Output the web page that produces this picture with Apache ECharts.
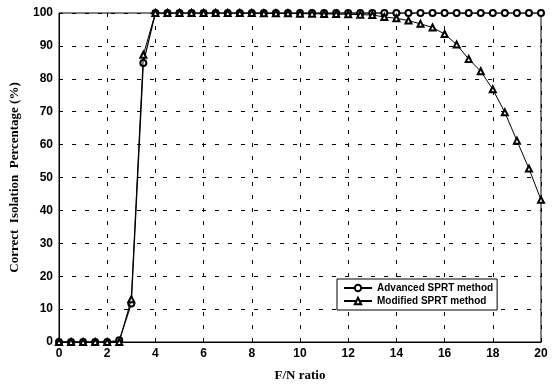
<!DOCTYPE html>
<html>
<head>
<meta charset="utf-8">
<script src="https://cdn.jsdelivr.net/npm/echarts@6/dist/echarts.min.js"></script>
<style>
  html, body { margin: 0; padding: 0; background: #fff; }
  #chart { width: 552px; height: 387px; }
</style>
</head>
<body>
<div id="chart"></div>
<script>
// F/N ratio samples (0 to 20, step 0.5)
const fnRatio = [0, 0.5, 1, 1.5, 2, 2.5, 3, 3.5, 4, 4.5, 5, 5.5, 6, 6.5, 7, 7.5, 8, 8.5, 9, 9.5,
  10, 10.5, 11, 11.5, 12, 12.5, 13, 13.5, 14, 14.5, 15, 15.5, 16, 16.5, 17, 17.5, 18, 18.5, 19, 19.5, 20];

const advancedSprt = [0, 0, 0, 0, 0, 0.5, 11.7, 84.8, 100, 100, 100, 100, 100, 100, 100, 100, 100, 100, 100, 100,
  100, 100, 100, 100, 100, 100, 100, 100, 100, 100, 100, 100, 100, 100, 100, 100, 100, 100, 100, 100, 100];

const modifiedSprt = [0, 0, 0, 0, 0, 0, 13, 87.3, 100, 100, 100, 100, 100, 100, 100, 100, 100, 99.9, 99.9, 99.9,
  99.8, 99.8, 99.7, 99.7, 99.6, 99.5, 99.4, 98.8, 98.4, 97.7, 96.7, 95.6, 93.6, 90.4, 86, 82.3, 76.8, 69.8, 61.2, 52.7, 43.2];

const xTicks = [0, 2, 4, 6, 8, 10, 12, 14, 16, 18, 20];

const chart = echarts.init(document.getElementById('chart'));

const tickFont = { fontFamily: 'Liberation Sans', fontWeight: 'bold', fontSize: 12, color: '#000' };
const dashed = { show: true, lineStyle: { color: '#000', type: [4, 9], width: 1 } };
const nameFont = { fontFamily: 'Liberation Serif', fontWeight: 'bold', fontSize: 13, color: '#000' };

const option = {
  animation: false,
  backgroundColor: '#fff',
  grid: { left: 57, right: 11, top: 13, bottom: 42, show: true, borderColor: '#000', borderWidth: 1 },
  xAxis: {
    type: 'value',
    min: 0,
    max: 20,
    interval: 2,
    name: 'F/N ratio',
    nameLocation: 'middle',
    nameGap: 27,
    nameTextStyle: nameFont,
    axisLine: { show: true, lineStyle: { color: '#000' } },
    axisTick: { inside: true, length: 4, lineStyle: { color: '#000' } },
    axisLabel: { ...tickFont, margin: 6, formatter: v => xTicks.includes(v) ? String(v) : '' },
    splitLine: dashed
  },
  yAxis: {
    type: 'value',
    min: 0,
    max: 100,
    interval: 10,
    name: 'Correct  Isolation  Percentage (%)',
    nameLocation: 'middle',
    nameGap: 38,
    nameTextStyle: nameFont,
    axisLine: { show: true, lineStyle: { color: '#000' } },
    axisTick: { inside: true, length: 4, lineStyle: { color: '#000' } },
    axisLabel: { ...tickFont, margin: 6 },
    splitLine: dashed
  },
  legend: {
    left: 337,
    top: 279,
    orient: 'vertical',
    itemGap: 3,
    itemWidth: 28,
    itemHeight: 8,
    padding: [4, 4, 4, 6],
    borderColor: '#000',
    borderWidth: 1,
    backgroundColor: '#fff',
    textStyle: { fontFamily: 'Liberation Sans', fontWeight: 'bold', fontSize: 10, color: '#000' },
    data: ['Advanced SPRT method', 'Modified SPRT method']
  },
  series: [
    {
      name: 'Advanced SPRT method',
      type: 'line',
      data: fnRatio.map((x, i) => [x, advancedSprt[i]]),
      symbol: 'emptyCircle',
      symbolSize: 6,
      lineStyle: { color: '#000', width: 1.2 },
      itemStyle: { color: '#000', borderColor: '#000', borderWidth: 1 },
      z: 3
    },
    {
      name: 'Modified SPRT method',
      type: 'line',
      data: fnRatio.map((x, i) => [x, modifiedSprt[i]]),
      symbol: 'emptyTriangle',
      symbolSize: 6,
      lineStyle: { color: '#000', width: 1 },
      itemStyle: { color: '#000', borderColor: '#000', borderWidth: 1 },
      z: 4
    }
  ]
};

chart.setOption(option);
</script>
</body>
</html>
